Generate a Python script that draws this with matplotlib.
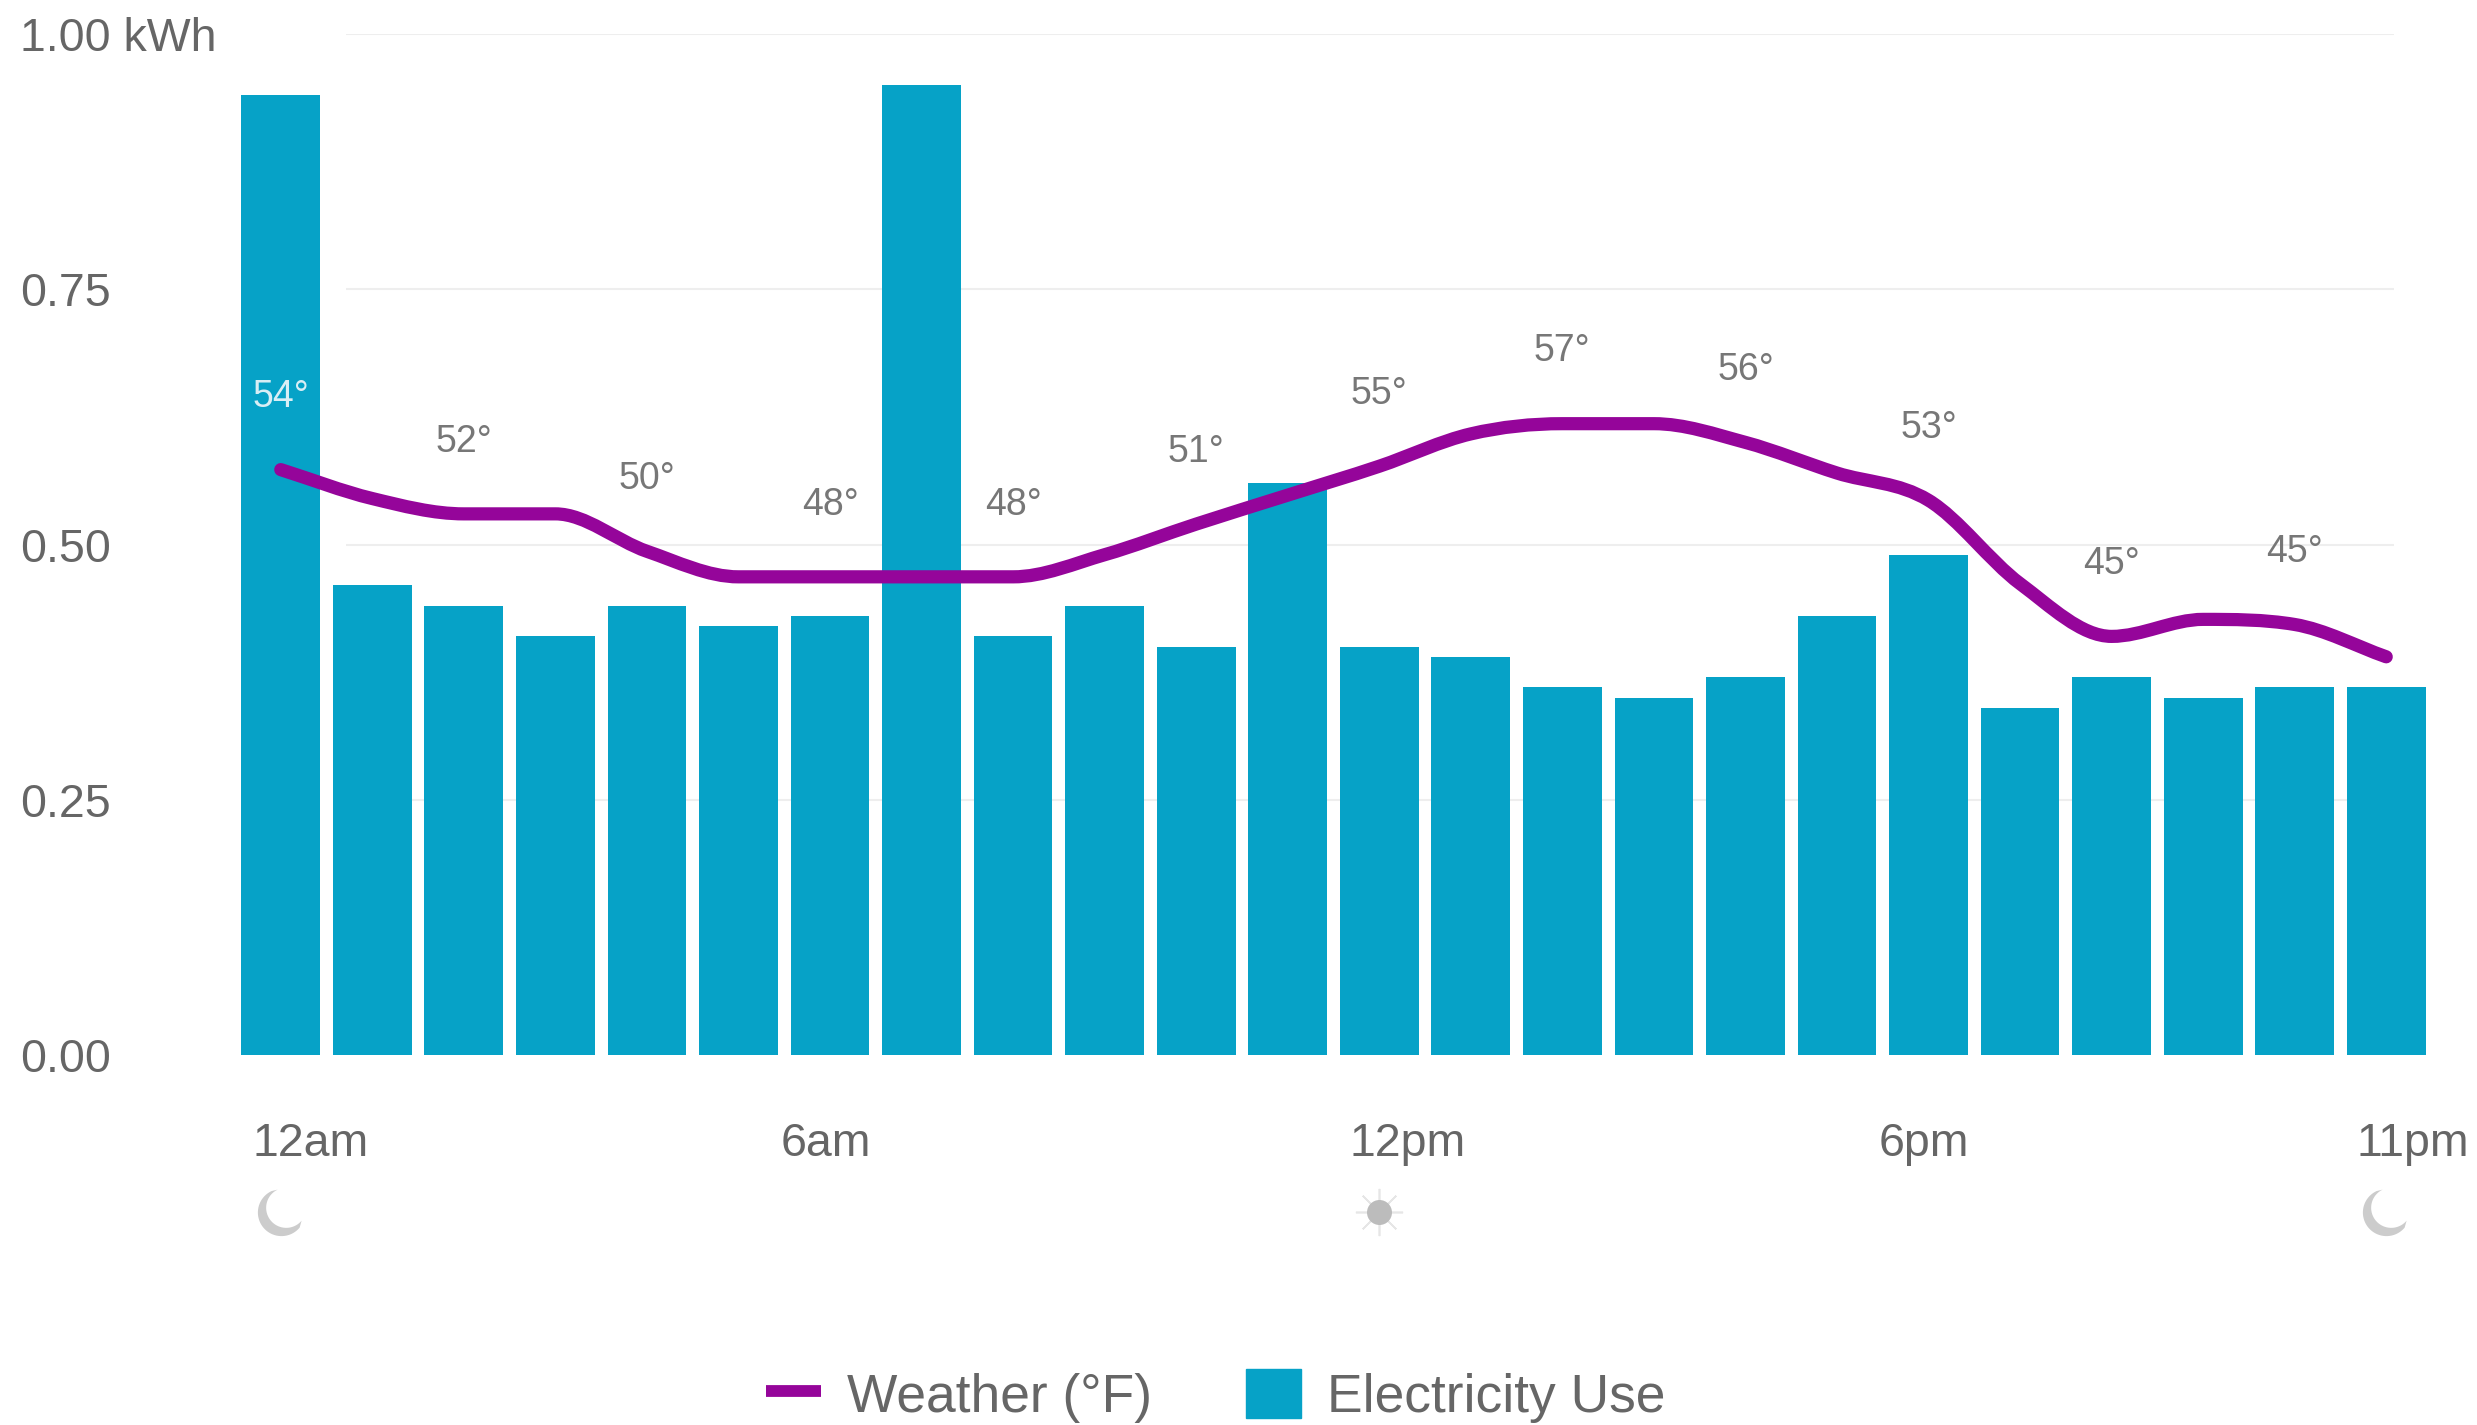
import numpy as np
import matplotlib
matplotlib.use('Agg')
import matplotlib.pyplot as plt
from matplotlib.path import Path
from matplotlib.patches import PathPatch, Patch
from matplotlib.lines import Line2D
from matplotlib.transforms import blended_transform_factory

plt.rcParams['font.family'] = ['Liberation Sans', 'DejaVu Sans']

# Dados
horas = list(range(24))
consumo = [0.94, 0.46, 0.44, 0.41, 0.44, 0.42, 0.43, 0.95, 0.41, 0.44, 0.40, 0.56,
           0.40, 0.39, 0.36, 0.35, 0.37, 0.43, 0.49, 0.34, 0.37, 0.35, 0.36, 0.36]
temperatura = [54.4, 52.7, 51.8, 51.8, 49.6, 48.1, 48.1, 48.1, 48.1, 49.4, 51.2, 52.9,
               54.6, 56.5, 57.1, 57.1, 56.0, 54.2, 52.6, 47.7, 44.6, 45.6, 45.3, 43.4]
horas_rotulo = [0, 2, 4, 6, 8, 10, 12, 14, 16, 18, 20, 22]
graus = ['54°', '52°', '50°', '48°', '48°', '51°', '55°', '57°', '56°', '53°', '45°', '45°']
kwh_ticks = [0.0, 0.25, 0.5, 0.75, 1.0]
kwh_labels = ['0.00', '0.25', '0.50', '0.75', '1.00 kWh']
x_ticks = [0.33, 5.96, 12.31, 17.95, 23.29]
x_labels = ['12am', '6am', '12pm', '6pm', '11pm']

AZUL = '#06a2c7'
ROXO = '#95059a'
CINZA = '#666666'

W, H = 2477, 1425
fig = plt.figure(figsize=(W / 100, H / 100), dpi=100, facecolor='white')
esq, dir_, topo, base = 235, 2432, 34, 1055
ax = fig.add_axes([esq / W, 1 - base / H, (dir_ - esq) / W, (base - topo) / H])

ax.hlines(kwh_ticks[1:], 0.71, 23.09, color='#eeeeee', lw=1.5, zorder=1)
ax.bar(horas, consumo, width=0.86, color=AZUL, zorder=2)
ax.set_xlim(-0.5, 23.5)
ax.set_ylim(0, 1)

ax.set_yticks(kwh_ticks)
ax.set_yticklabels(kwh_labels)
ax.tick_params(axis='y', length=0, pad=155, labelsize=33.5, labelcolor=CINZA)
for t in ax.get_yticklabels():
    t.set_horizontalalignment('left')
ax.set_xticks(x_ticks)
ax.set_xticklabels(x_labels)
ax.tick_params(axis='x', length=0, pad=48, labelsize=33.5, labelcolor=CINZA)
for s in ax.spines.values():
    s.set_visible(False)

# Eixo da temperatura: curva monotona entre as leituras de cada hora
ax2 = ax.twinx()
ax2.set_ylim(20, 80)
ax2.axis('off')
pts = np.column_stack([horas, temperatura])
sec = np.diff(pts[:, 1])
tang = np.zeros(len(pts))
for i in range(1, len(pts) - 1):
    if sec[i - 1] * sec[i] > 0:
        media = (sec[i - 1] + sec[i]) / 2
        limite = 3 * min(abs(sec[i - 1]), abs(sec[i]))
        tang[i] = np.sign(media) * min(abs(media), limite)
tang[0] = sec[0]
tang[-1] = sec[-1]
verts = [pts[0]]
codes = [Path.MOVETO]
for i in range(len(pts) - 1):
    p1 = pts[i]
    p2 = pts[i + 1]
    verts += [p1 + [1 / 3, tang[i] / 3], p2 - [1 / 3, tang[i + 1] / 3], p2]
    codes += [Path.CURVE4] * 3
ax2.add_patch(PathPatch(Path(verts, codes), fill=False, edgecolor=ROXO, lw=9.5,
                        capstyle='round', joinstyle='round'))

for h, g in zip(horas_rotulo, graus):
    cor = '#d8eef5' if h == 0 else '#777777'
    ax2.annotate(g, (h, temperatura[h]), xytext=(0, 52), textcoords='offset points',
                 ha='center', va='center', fontsize=27, color=cor)

# Icones de dia e noite
t = np.linspace(np.radians(115), np.radians(320), 40)
externo = np.column_stack([np.cos(t), np.sin(t)])
interno = np.column_stack([0.2 + 0.85 * np.cos(t[::-1]), 0.2 + 0.85 * np.sin(t[::-1])])
lua = np.vstack([externo, interno, externo[:1]])
lua = Path(lua, closed=True)
trans = blended_transform_factory(ax.transData, ax.transAxes)
icone_y = -0.154
for x in [0, 23]:
    ax.plot([x], [icone_y], marker=lua, ms=34, color='#cccccc', mew=0, clip_on=False,
            transform=trans)
ax.plot([12], [icone_y], marker=(8, 2, 0), ms=34, color='#e6e6e6', mew=1.2, clip_on=False,
        transform=trans)
ax.plot([12], [icone_y], marker='o', ms=18, color='#bcbcbc', mew=0, clip_on=False,
        transform=trans)

handles = [Line2D([0], [0], color=ROXO, lw=8.5, solid_capstyle='butt'), Patch(color=AZUL)]
fig.legend(handles, ['Weather (°F)', 'Electricity Use'], ncol=2, frameon=False,
           loc='center', bbox_to_anchor=(1216 / W, 1 - 1396 / H), fontsize=38.4,
           labelcolor=CINZA, handlelength=1.02, handleheight=1.02,
           handletextpad=0.5, columnspacing=1.76, borderpad=0, borderaxespad=0)

fig.savefig('out.png', dpi=100, facecolor='white')
